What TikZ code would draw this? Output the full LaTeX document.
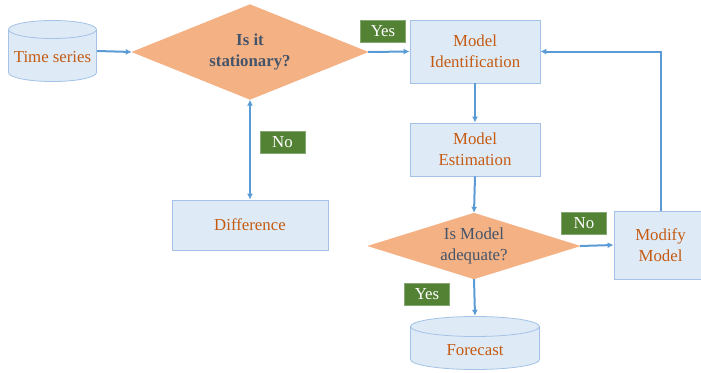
\documentclass[tikz,border=0pt]{standalone}
\usepackage{fontspec}
\setmainfont{Liberation Serif}
\newfontfamily\diafont{Liberation Serif}
\usetikzlibrary{shapes.geometric,arrows.meta,calc}
\definecolor{boxfill}{HTML}{DEEBF7}
\definecolor{boxdraw}{HTML}{A4C2E6}
\definecolor{dfill}{HTML}{F4B183}
\definecolor{otext}{HTML}{C55A11}
\definecolor{dtext}{HTML}{44546A}
\definecolor{arrc}{HTML}{5B9BD5}
\definecolor{lgreen}{HTML}{548235}
\tikzset{
  procbox/.style={draw=boxdraw, fill=boxfill, line width=0.8pt, text=otext, align=center, inner sep=0pt},
  cyl/.style={rectangle, text=otext, inner sep=0pt, text depth=4pt,
    path picture={
      \path[fill=boxfill, draw=boxdraw, line width=0.8pt]
        let \p1=(path picture bounding box.north west), \p2=(path picture bounding box.south east),
            \n1={(\x2-\x1)/2-0.5pt} in
        ({\x1+0.5pt},{\y1-0.5pt-#1}) -- ({\x1+0.5pt},{\y2+0.5pt+#1})
          arc[start angle=180, end angle=360, x radius=\n1, y radius=#1]
          -- ({\x2-0.5pt},{\y1-0.5pt-#1})
          arc[start angle=0, end angle=180, x radius=\n1, y radius=#1] -- cycle
        ({\x1+0.5pt},{\y1-0.5pt-#1})
          arc[start angle=180, end angle=360, x radius=\n1, y radius=#1];
    }},
  decision/.style={shape=diamond, fill=dfill, draw=dfill, text=dtext, align=center, inner sep=0pt},
  lbl/.style={fill=lgreen, draw=lgreen!70!white, text=white, minimum width=45pt, minimum height=22pt, inner sep=0pt},
  arr/.style={draw=arrc, line width=2pt, -{Latex[length=6pt,width=6pt]}},
  darr/.style={draw=arrc, line width=2pt, {Latex[length=6pt,width=6pt]}-{Latex[length=6pt,width=6pt]}}
}
\begin{document}
\begin{tikzpicture}[x=1pt,y=-1pt, font=\diafont\fontsize{16.8}{21}\selectfont]
\useasboundingbox (0,0) rectangle (701,372);
\node[cyl=9pt, minimum height=62pt, minimum width=89pt, text height=26pt] (ts) at (52.5,51) {Time series};
\node[decision, minimum width=236pt, minimum height=95pt, aspect=2.5, font=\diafont\fontsize{16.8}{21}\selectfont\bfseries] (st) at (250,52) {Is it\\stationary?};
\node[procbox, minimum width=156pt, minimum height=50pt] (diff) at (250,225) {Difference};
\node[procbox, minimum width=130pt, minimum height=63pt] (mi) at (475,51.5) {Model\\Identification};
\node[procbox, minimum width=130pt, minimum height=53pt] (me) at (475,149.5) {Model\\Estimation};
\node[decision, minimum width=212pt, minimum height=66pt, aspect=3.2] (ad) at (474,246) {Is Model\\adequate?};
\node[procbox, minimum width=93pt, minimum height=68pt] (mm) at (660.5,245) {Modify\\Model};
\node[cyl=10pt, minimum height=54pt, minimum width=130pt, text height=28pt] (fc) at (475,343) {Forecast};
\node[lbl] (yes1) at (383,31.5) {Yes};
\node[lbl] (no1) at (282.5,142.5) {No};
\node[lbl] (no2) at (584,223) {No};
\node[lbl] (yes2) at (427,294.5) {Yes};
\draw[arr] (ts.east) -- (st.west);
\draw[arr] (st.east) -- (mi.west);
\draw[darr] (st.south) -- (diff.north);
\draw[arr] (mi.south) -- (me.north);
\draw[arr] (me.south) -- (ad.north);
\draw[arr] (ad.east) -- (mm.west);
\draw[arr] (ad.south) -- (fc.north);
\draw[arr] (mm.north) |- (mi.east);
\end{tikzpicture}
\end{document}
